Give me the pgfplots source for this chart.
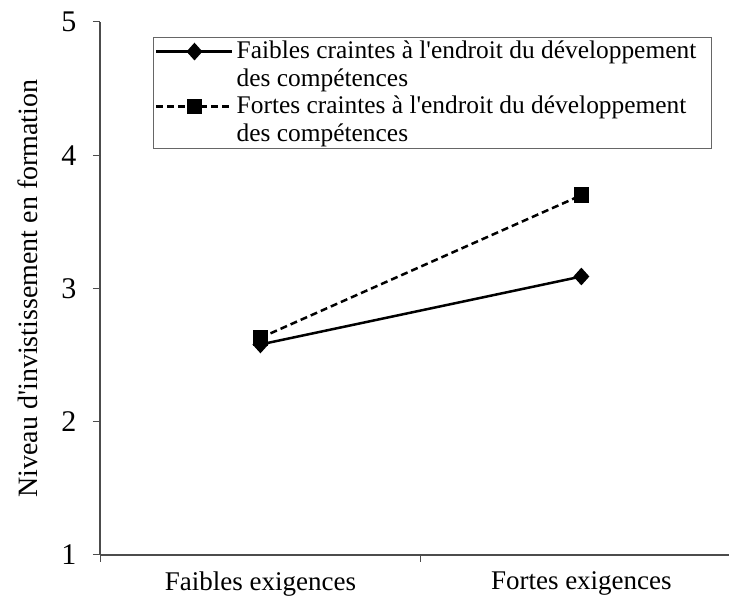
\documentclass[border=0pt]{standalone}
\usepackage{pgfplots}
\pgfplotsset{compat=1.18}
\usepackage{fontspec}
\setmainfont{Liberation Serif}[Ligatures=TeXOff]
\begin{document}
\begin{tikzpicture}
\path[use as bounding box] (0,0) rectangle (729pt,601pt);
\begin{axis}[
  scale only axis, width=629pt, height=533pt,
  at={(100pt,46pt)}, anchor=south west,
  xmin=0.5, xmax=2.46, ymin=1, ymax=5,
  axis x line*=bottom, axis y line*=left,
  axis line style={draw=black!70, line width=1.2pt},
  every tick/.style={draw=black!70, line width=1pt},
  tick align=outside,
  major tick length=7pt,
  xtick={0.5,1.5}, xticklabels={,,},
  extra x ticks={1,2},
  extra x tick labels={Faibles exigences, Fortes exigences},
  extra x tick style={major tick length=0pt,
    tick label style={font=\fontsize{27}{32}\selectfont, yshift=-13pt}},
  ytick={1,2,3,4,5},
  yticklabel style={font=\fontsize{30}{36}\selectfont, xshift=-13pt, /pgf/number format/assume math mode=true},
  ylabel={Niveau d'invistissement en formation},
  every axis y label/.style={at={(axis description cs:-0.1145,0.5)}, rotate=90, anchor=center, font=\fontsize{28}{34}\selectfont},
  legend style={at={(0.084,0.972)}, anchor=north west, draw=black!60, line width=0.8pt,
    font=\fontsize{25.4}{30}\selectfont, inner xsep=2pt, inner ysep=0.5pt, row sep=0pt,
    nodes={inner sep=1pt, text height=20pt, text depth=5.5pt}},
  legend cell align=left,
  legend image code/.code={\draw[mark repeat=2,mark phase=2,#1] plot coordinates {(0pt,0pt)(38pt,0pt)(76pt,0pt)};},
]
\addplot[black, line width=2.5pt, mark=diamond*, mark size=7pt, mark options={solid, xscale=1.2}]
  coordinates {(1,2.58) (2,3.09)};
\addlegendentry{\hspace{2pt}Faibles craintes à l'endroit du développement\rule{12pt}{0pt}}
\addlegendimage{empty legend}
\addlegendentry{\hspace{2pt}des compétences}
\addplot[black, line width=2.5pt, dash pattern=on 7pt off 4pt, mark=square*, mark size=6.5pt, mark options={solid}]
  coordinates {(1,2.63) (2,3.70)};
\addlegendentry{\hspace{2pt}Fortes craintes à l'endroit du développement}
\addlegendimage{empty legend}
\addlegendentry{\hspace{2pt}des compétences}
\end{axis}
\end{tikzpicture}
\end{document}
